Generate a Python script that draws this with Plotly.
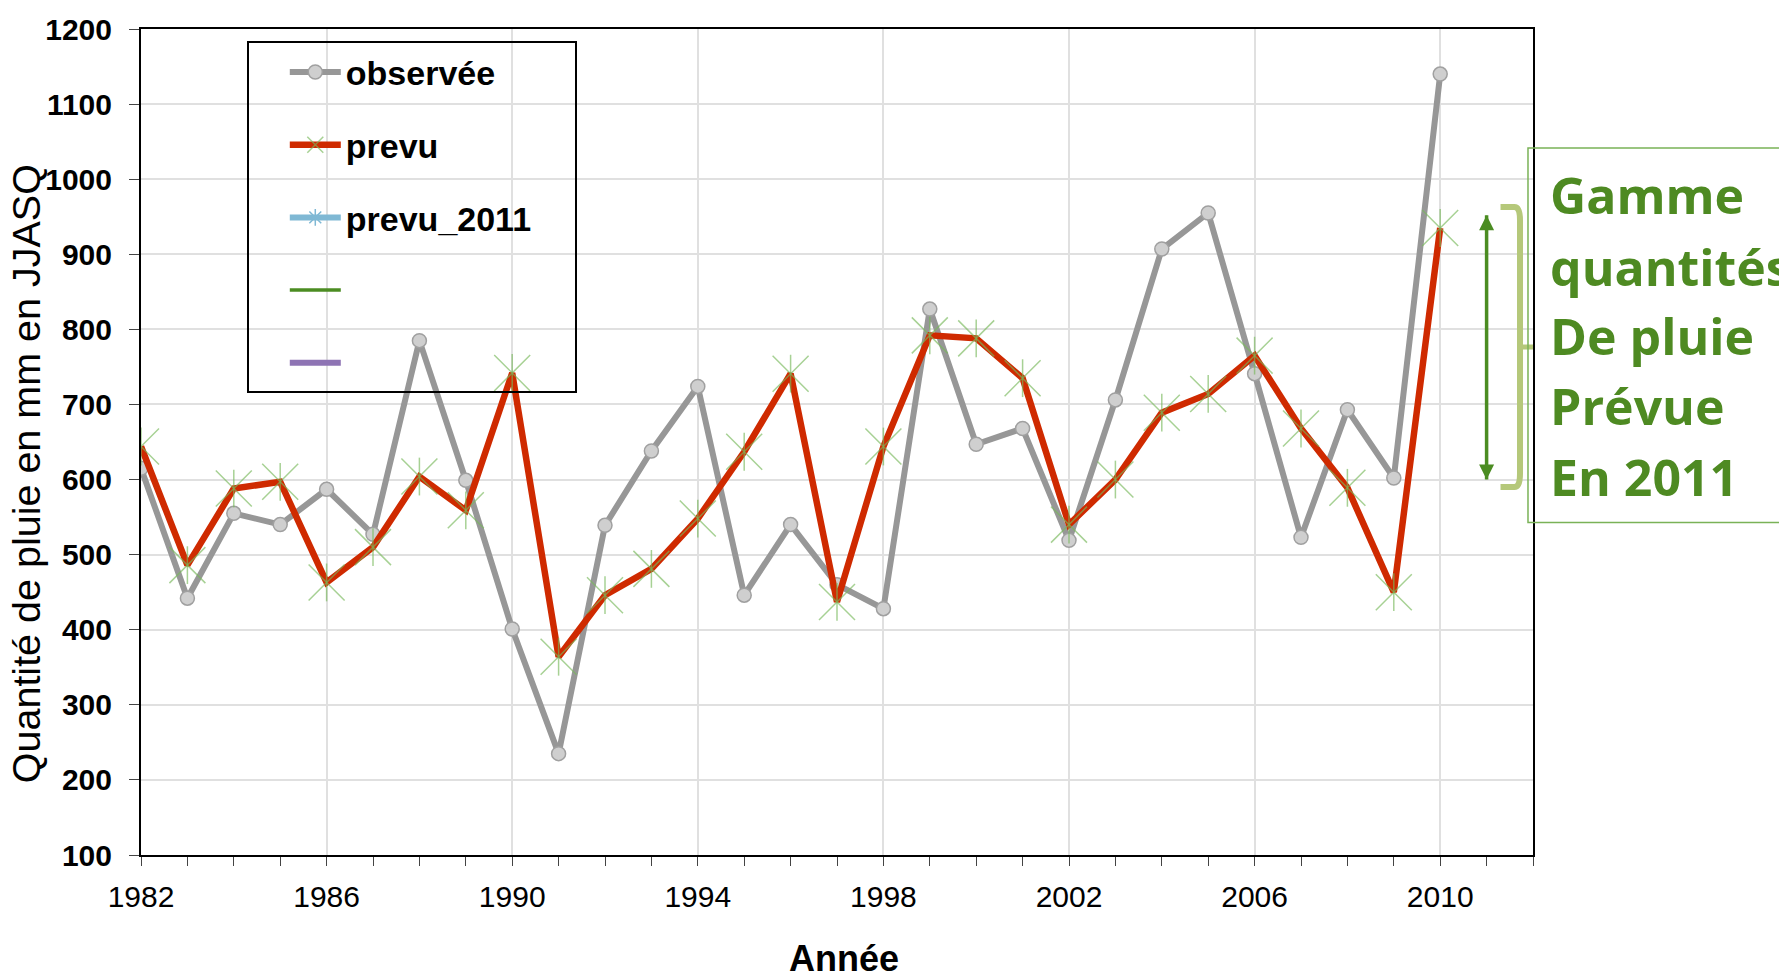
import plotly.graph_objects as go

# ---- data ----
years = list(range(1982, 2011))
observed = [615, 442, 555, 540, 587, 527, 785, 599, 401, 235, 539, 638, 724, 446, 540,
            460, 428, 827, 647, 668, 519, 706, 907, 955, 741, 523, 693, 602, 1140]
prevu = [644, 486, 588, 597, 463, 510, 604, 559, 742, 364, 446, 481, 548, 637, 741,
         437, 644, 792, 788, 735, 540, 600, 689, 714, 765, 668, 589, 450, 935]
range_year = [2011, 2011]
range_2011 = [600, 952]
bracket_vals = [590, 963]
annot_lines = ["Gamme", "quantités", "De pluie", "Prévue", "En 2011"]
y_ticks = list(range(100, 1201, 100))
x_ticks = list(range(1982, 2011, 4))

GRAY = "#979797"
RED = "#cf2a00"
STAR = "rgba(120,185,90,0.65)"
DKGREEN = "#4b8c22"
LTGREEN = "#b5c87a"
TXTGREEN = "#4e8a22"
NB = "\u00a0"

fig = go.Figure()

fig.add_trace(go.Scatter(
    x=years, y=observed, name="observée", mode="lines+markers",
    line=dict(color=GRAY, width=6),
    marker=dict(symbol="circle", size=14, color="#cfcfcf", line=dict(color="#a0a0a0", width=1.5)),
    legendgroup="g1"))

fig.add_trace(go.Scatter(
    x=years, y=prevu, name="prevu", mode="lines+markers",
    line=dict(color=RED, width=6.5),
    marker=dict(symbol="x-thin-open", size=36, color=STAR, line=dict(color=STAR, width=1.5)),
    legendgroup="g2"))

fig.add_trace(go.Scatter(
    x=years, y=prevu, mode="markers", showlegend=False, hoverinfo="skip",
    marker=dict(symbol="line-ns-open", size=27, color=STAR, line=dict(color=STAR, width=1.5)),
    legendgroup="g2"))

fig.add_trace(go.Scatter(
    x=[2011], y=[None], name="prevu_2011" + NB * 4, mode="lines+markers",
    line=dict(color="#7fb8d4", width=6),
    marker=dict(symbol="asterisk-open", size=14, color="#7fb8d4", line=dict(color="#7fb8d4", width=1.5)),
    legendgroup="g3"))

fig.add_trace(go.Scatter(
    x=range_year, y=range_2011, name=NB, mode="lines",
    line=dict(color=DKGREEN, width=3.5), legendgroup="g4"))

fig.add_trace(go.Scatter(
    x=range_year, y=range_2011, mode="markers", showlegend=False, hoverinfo="skip",
    marker=dict(symbol=["arrow-bar-down", "arrow-bar-up"], size=15, color=DKGREEN),
    legendgroup="g4"))

fig.add_trace(go.Scatter(
    x=[2011], y=[None], name=NB + NB, mode="lines",
    line=dict(color="#8e74b4", width=6), legendgroup="g5"))

# bracket
b_lo, b_hi = bracket_vals
bx0, bx1 = 2011.3, 2011.72
fig.add_shape(type="path", xref="x", yref="y",
              path=f"M {bx0},{b_hi} L {bx1-0.12},{b_hi} Q {bx1},{b_hi} {bx1},{b_hi-18} "
                   f"L {bx1},{b_lo+18} Q {bx1},{b_lo} {bx1-0.12},{b_lo} L {bx0},{b_lo}",
              line=dict(color=LTGREEN, width=6))
b_mid = (b_lo + b_hi) / 2
fig.add_shape(type="line", xref="x", yref="y", x0=bx1, x1=2012.2, y0=b_mid, y1=b_mid,
              line=dict(color=LTGREEN, width=5))

# text box
fig.add_shape(type="rect", xref="paper", yref="paper", x0=0.9964, x1=1.2, y0=0.4026, y1=0.856,
              line=dict(color="#7ab257", width=1.5), fillcolor="rgba(0,0,0,0)")

line_y = [0.799, 0.7115, 0.6286, 0.543, 0.458]
for txt, yy in zip(annot_lines, line_y):
    fig.add_annotation(text=txt, xref="paper", yref="paper", x=1.0105, y=yy,
                       xanchor="left", yanchor="middle", showarrow=False,
                       font=dict(family="Open Sans", size=50, color=TXTGREEN, weight="bold"))

# axis titles
fig.add_annotation(text="Quantité de pluie en mm en JJASQ", xref="paper", yref="paper",
                   x=-0.082, y=0.462, textangle=-90, showarrow=False,
                   xanchor="center", yanchor="middle",
                   font=dict(family="Liberation Sans, Arial", size=39.5, color="black"))
fig.add_annotation(text="<b>Année</b>", xref="paper", yref="paper",
                   x=0.505, y=-0.125, showarrow=False, xanchor="center", yanchor="middle",
                   font=dict(family="Liberation Sans, Arial", size=36, color="black"))

fig.update_xaxes(range=[1982, 2012], tickvals=x_ticks, ticktext=[str(v) for v in x_ticks],
                 showgrid=True, gridcolor="#e0e0e0", gridwidth=1.5,
                 showline=True, linecolor="black", linewidth=2, mirror=True,
                 ticks="outside", ticklen=9, tickcolor="#444", tickwidth=1,
                 minor=dict(dtick=1, tick0=1982, ticks="outside", ticklen=9, tickcolor="#444", showgrid=False),
                 tickfont=dict(family="Liberation Sans, Arial", size=30, color="black"),
                 ticklabelstandoff=5, zeroline=False)
fig.update_yaxes(range=[100, 1200], tickvals=y_ticks,
                 showgrid=True, gridcolor="#e0e0e0", gridwidth=1.5,
                 showline=True, linecolor="black", linewidth=2, mirror=True,
                 ticks="outside", ticklen=10, tickcolor="#444", tickwidth=1,
                 tickfont=dict(family="Liberation Sans, Arial", size=30, color="black", weight="bold"),
                 ticklabelstandoff=11, zeroline=False)

fig.update_layout(
    width=1779, height=973,
    margin=dict(l=141, r=246, t=23, b=118),
    paper_bgcolor="white", plot_bgcolor="white",
    showlegend=True,
    legend=dict(x=0.076, y=0.985, xanchor="left", yanchor="top",
                bgcolor="rgba(0,0,0,0)", bordercolor="black", borderwidth=2,
                font=dict(family="Liberation Sans, Arial", size=34, color="black", weight="bold"),
                tracegroupgap=25.5, itemwidth=51, indentation=36, traceorder="grouped"),
)

fig.write_html("out.html", config={"displayModeBar": False},
               post_script="document.body.style.margin='0px';")
